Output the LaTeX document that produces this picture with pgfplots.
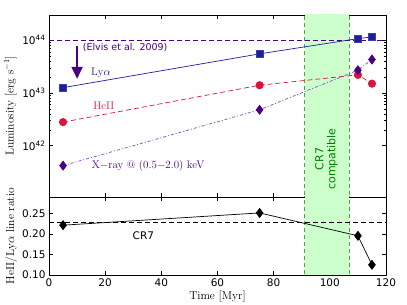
\documentclass[border=0pt]{standalone}
\usepackage{pgfplots}
\pgfplotsset{compat=1.18}
\usepackage{fontspec}
\newfontfamily\dejavu{DejaVu Sans}
\usetikzlibrary{arrows.meta}
\definecolor{lyablue}{RGB}{30,30,150}
\definecolor{lyaedge}{RGB}{60,60,190}
\definecolor{heiired}{RGB}{220,20,60}
\definecolor{xindigo}{RGB}{75,0,130}
\definecolor{xline}{RGB}{125,70,200}
\definecolor{bandfill}{RGB}{204,255,204}
\definecolor{bandedge}{RGB}{70,170,70}
\definecolor{cgreen}{RGB}{0,128,0}
\begin{document}
\begin{tikzpicture}
\pgfplotsset{
  every axis/.append style={
    scale only axis, width=337pt,
    xmin=0, xmax=120,
    xtick={0,20,...,120},
    tick align=inside,
    major tick length=4pt, minor tick length=2pt,
    tick label style={font=\dejavu\fontsize{10.5}{12}\selectfont},
    /pgf/number format/assume math mode=true,
    label style={font=\fontsize{11.5}{13}\selectfont},
    axis line style={black, line width=0.6pt},
    every tick/.style={black, line width=0.5pt},
    clip=true,
  }
}
\path[use as bounding box] (0,0) rectangle (407pt,305pt);
% ---------------- top panel ----------------
\begin{axis}[
  at={(49pt,108pt)}, anchor=south west,
  height=182pt,
  ymode=log, ymin=1.07e41, ymax=3e44,
  ytick={1e42,1e43,1e44},
  yticklabels={10\textsuperscript{42},10\textsuperscript{43},10\textsuperscript{44}},
  xticklabels={},
  ylabel={Luminosity [erg s$^{-1}$]},
  ylabel style={at={(axis description cs:-0.115,0.5)}, anchor=center},
]
\fill[bandfill] (axis cs:91,1e40) rectangle (axis cs:107,1e46);
\draw[bandedge, line width=1pt, dash pattern=on 4pt off 3pt] (axis cs:91,1e40) -- (axis cs:91,1e46);
\draw[bandedge, line width=1pt, dash pattern=on 4pt off 3pt] (axis cs:107,1e40) -- (axis cs:107,1e46);
% Elvis et al. 2009 level
\addplot[xindigo, line width=1.1pt, dash pattern=on 5pt off 3pt] coordinates {(0,1e44) (120,1e44)};
\addplot[xindigo, line width=1.8pt, -{Triangle[width=11pt,length=12pt]}] coordinates {(10,7.9e43) (10,1.85e43)};
% Lya
\addplot[lyablue, line width=0.7pt, mark=square*, mark size=3.5pt,
  mark options={solid, fill=lyablue, draw=lyaedge, line width=0.6pt}]
  coordinates {(5,1.26e43) (75,5.5e43) (110,1.07e44) (115,1.15e44)};
% HeII
\addplot[heiired, line width=0.7pt, dash pattern=on 5pt off 3pt, mark=*, mark size=3.7pt,
  mark options={solid, fill=heiired, draw=heiired}]
  coordinates {(5,2.8e42) (75,1.4e43) (110,2.2e43) (115,1.5e43)};
% X-ray
\addplot[xline, line width=0.7pt, dash pattern=on 3pt off 2pt on 1pt off 2pt, mark=diamond*, mark size=4.5pt,
  mark options={solid, fill=xindigo, draw=xindigo}]
  coordinates {(5,4.2e41) (75,4.8e42) (110,2.7e43) (115,4.3e43)};
\node[anchor=west, text=xindigo, font=\dejavu\fontsize{9.5}{10}\selectfont] at (axis cs:10.8,7.1e43) {(Elvis et al. 2009)};
\node[text=lyablue, font=\fontsize{11}{12}\selectfont] at (axis cs:18.5,2.35e43) {Ly$\alpha$};
\node[text=heiired, font=\fontsize{11}{12}\selectfont] at (axis cs:19.5,5.8e42) {HeII};
\node[anchor=west, text=xindigo, font=\fontsize{11}{12}\selectfont] at (axis cs:14.0,4.2e41) {X$-$ray @ (0.5$-$2.0) keV};
\node[rotate=90, text=cgreen, align=center, font=\dejavu\fontsize{11}{12}\selectfont] at (axis cs:98.8,5.6e41) {CR7\\compatible};
\end{axis}
% ---------------- bottom panel ----------------
\begin{axis}[
  at={(49pt,30pt)}, anchor=south west,
  height=78pt,
  ymin=0.10, ymax=0.291,
  ytick={0.10,0.15,0.20,0.25},
  yticklabel style={/pgf/number format/.cd, fixed, fixed zerofill, precision=2},
  xlabel={Time [Myr]},
  ylabel={HeII/Ly$\alpha$ line ratio},
  ylabel style={at={(axis description cs:-0.112,0.5)}, anchor=center},
  xlabel style={yshift=2pt},
]
\fill[bandfill] (axis cs:91,0) rectangle (axis cs:107,1);
\draw[bandedge, line width=1pt, dash pattern=on 4pt off 3pt] (axis cs:91,0) -- (axis cs:91,1);
\draw[bandedge, line width=1pt, dash pattern=on 4pt off 3pt] (axis cs:107,0) -- (axis cs:107,1);
\addplot[black, line width=0.7pt, dash pattern=on 5pt off 3pt] coordinates {(0,0.229) (120,0.229)};
\addplot[black, line width=0.7pt, mark=diamond*, mark size=4.5pt, mark options={solid, fill=black}]
  coordinates {(5,0.222) (75,0.252) (110,0.196) (115,0.125)};
\node[font=\dejavu\fontsize{10.5}{12}\selectfont] at (axis cs:33.6,0.196) {CR7};
\end{axis}
\end{tikzpicture}
\end{document}
